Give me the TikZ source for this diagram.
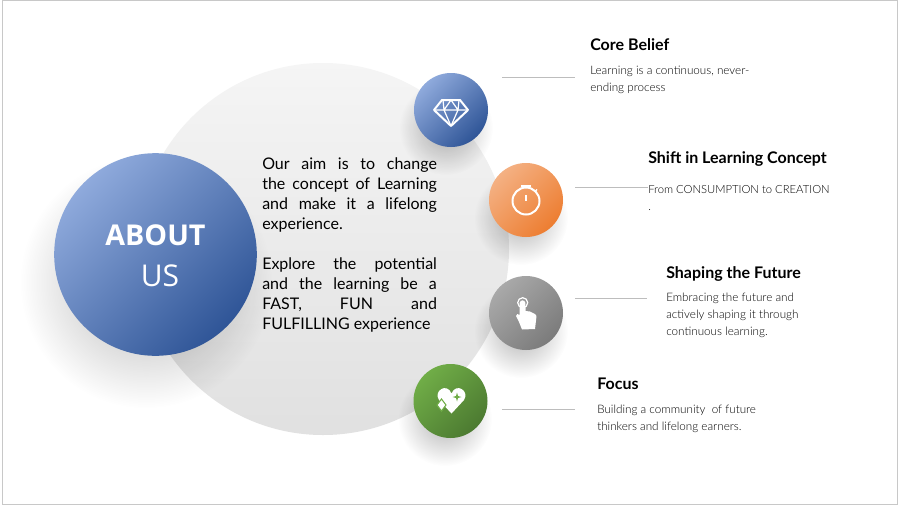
\documentclass[tikz,border=0pt]{standalone}
\usepackage{fontspec}
\setmainfont{Lato}
\newfontfamily\aboutfont{Open Sans}
\newfontfamily\bodyfont{Lato Light}
\usetikzlibrary{fadings}
\definecolor{AboutLight}{HTML}{8FAADC}
\definecolor{AboutDark}{HTML}{2F5597}
\definecolor{OrangeLight}{HTML}{F4B183}
\definecolor{OrangeDark}{HTML}{ED7D31}
\definecolor{GrayLight}{HTML}{A9A9A9}
\definecolor{GrayDark}{HTML}{7B7B7B}
\definecolor{GreenLight}{HTML}{70AD47}
\definecolor{GreenDark}{HTML}{4C7A31}
\definecolor{FrameGray}{HTML}{C8C8C8}
\definecolor{RuleGray}{HTML}{BDBDBD}
\tikzfading[name=softshadow,inner color=transparent!0,outer color=transparent!100]

\begin{document}
\begin{tikzpicture}[
      x=0.75pt,y=-0.75pt,
      backdrop/.style={circle,minimum size=279pt,inner sep=0pt,
        top color=black!4,bottom color=black!12},
      aboutdisc/.style={circle,minimum size=152pt,inner sep=0pt,
        top color=AboutLight,bottom color=AboutDark,shading angle=45},
      icondisc/.style={circle,minimum size=55.5pt,inner sep=0pt,shading=axis,shading angle=45},
      shadow/.style={fill=black,opacity=0.3,path fading=softshadow},
      rule/.style={color=RuleGray,line width=0.6pt},
      glyph/.style={color=white,line width=1.5pt,line join=round},
      title/.style={anchor=west,inner sep=0pt,font=\fontsize{12}{15}\selectfont\bfseries},
      body/.style={anchor=north west,inner sep=0pt,align=left,
        font=\fontsize{8.75}{12.8}\selectfont\bodyfont}
    ]
      \useasboundingbox (0,0) rectangle (899,508);
      \fill[white] (0,0) rectangle (899,508);
      \draw[FrameGray,line width=0.7pt] (2,0.5) rectangle (897,504);

      \node[backdrop] (big) at (323,249) {};

      % shadows first, discs on top
      \fill[shadow] (146,282) circle (126);
      \fill[shadow] (446,128) circle (47);
      \fill[shadow] (521,218) circle (47);
      \fill[shadow] (521,331) circle (47);
      \fill[shadow] (445,419) circle (47);

      \node[aboutdisc] (about) at (155.5,254.5) {};
      \node[font=\fontsize{21.5}{28}\selectfont\aboutfont\bfseries,color=white] (aboutone) at (155.5,235) {ABOUT};
      \node[font=\fontsize{22.5}{28}\selectfont\aboutfont,color=white] (abouttwo) at (160,276) {US};

      \node[anchor=north west,inner sep=0pt,text width=131pt,align=justify,
        font=\fontsize{12}{15}\selectfont] (aim) at (262,157) {%
        Our aim is to change\linebreak the concept of Learning\linebreak and make it a lifelong\linebreak experience.\par
        \vspace{15pt}%
        Explore the potential\linebreak and the learning be a\linebreak FAST, FUN and\linebreak FULFILLING experience};

      \node[icondisc,top color=AboutLight,bottom color=AboutDark,shading angle=45] (belief) at (451,110) {};
      \node[icondisc,top color=OrangeLight,bottom color=OrangeDark,shading angle=45] (shift) at (526,200) {};
      \node[icondisc,top color=GrayLight,bottom color=GrayDark,shading angle=45] (future) at (526,313) {};
      \node[icondisc,top color=GreenLight,bottom color=GreenDark,shading angle=45] (focus) at (450.5,401) {};

      % gem
      \draw[glyph] (442,100) -- (460,100) -- (468,110) -- (451,126) -- (434,110) -- cycle;
      \draw[glyph,line width=0.9pt] (434,110) -- (468,110) (443,100) -- (444,110) -- (451,126) -- (458,110) -- (459,100) (444,110) -- (451,100) -- (458,110);
      % stopwatch
      \draw[glyph] (526,201) circle (13.5);
      \draw[glyph] (521,185.5) -- (531,185.5) (526,185.5) -- (526,188);
      \draw[glyph,line width=1pt] (526,195) -- (526,201);
      \draw[glyph,line width=1pt] (534.5,192) -- (537,189.5);
      % hand
      \draw[glyph,line width=0.9pt] (522.7,302.7) circle (5);
      \fill[white] (519.6,303) .. controls (520,299.5) and (525,299.5) .. (525.4,303)
        -- (525.6,311) -- (530,311.5) -- (535,314) .. controls (536.5,315) and (536.5,316) .. (536.3,318)
        -- (535,329) -- (522,329.5) -- (519,322) -- (516,316) .. controls (516,313.5) and (518.5,313.5) .. (519.6,315) -- cycle;
      % heart
      \fill[white] (451.5,413.5) -- (439,400) .. controls (433,391) and (447,382) .. (451.5,393.5)
        .. controls (456,382) and (470,391) .. (464,400) -- cycle;
      \fill[white,draw=GreenLight,line width=0.8pt] (441.5,399) -- (446,405) -- (441.5,411) -- (437,405) -- cycle;
      \fill[GreenLight] (457,392.5) -- (458,396) -- (461.5,397) -- (458,398) -- (457,401.5) -- (456,398) -- (452.5,397) -- (456,396) -- cycle;

      \coordinate (belief-a) at (502,77);
      \coordinate (belief-b) at (575,77);
      \coordinate (shift-a) at (575,187);
      \coordinate (shift-b) at (648,187);
      \coordinate (future-a) at (575,298);
      \coordinate (future-b) at (647,298);
      \coordinate (focus-a) at (502,409);
      \coordinate (focus-b) at (575,409);
      \draw[rule] (belief-a) -- (belief-b);
      \draw[rule] (shift-a) -- (shift-b);
      \draw[rule] (future-a) -- (future-b);
      \draw[rule] (focus-a) -- (focus-b);

      \node[title] (belieftitle) at (590,45) {Core Belief};
      \node[body] (belieftext) at (590,66) {Learning is a continuous, never-\\ending process};
      \node[title] (shifttitle) at (648,158.5) {Shift in Learning Concept};
      \node[body,font=\fontsize{8.45}{12.8}\selectfont\bodyfont] (shifttext) at (648,185) {From CONSUMPTION to CREATION\\.};
      \node[title] (futuretitle) at (666,273.5) {Shaping the Future};
      \node[body] (futuretext) at (666,293) {Embracing the future and\\actively shaping it through\\continuous learning.};
      \node[title] (focustitle) at (597,384) {Focus};
      \node[body] (focustext) at (597,405) {Building a community~ of future\\thinkers and lifelong earners.};
    \end{tikzpicture}
\end{document}
